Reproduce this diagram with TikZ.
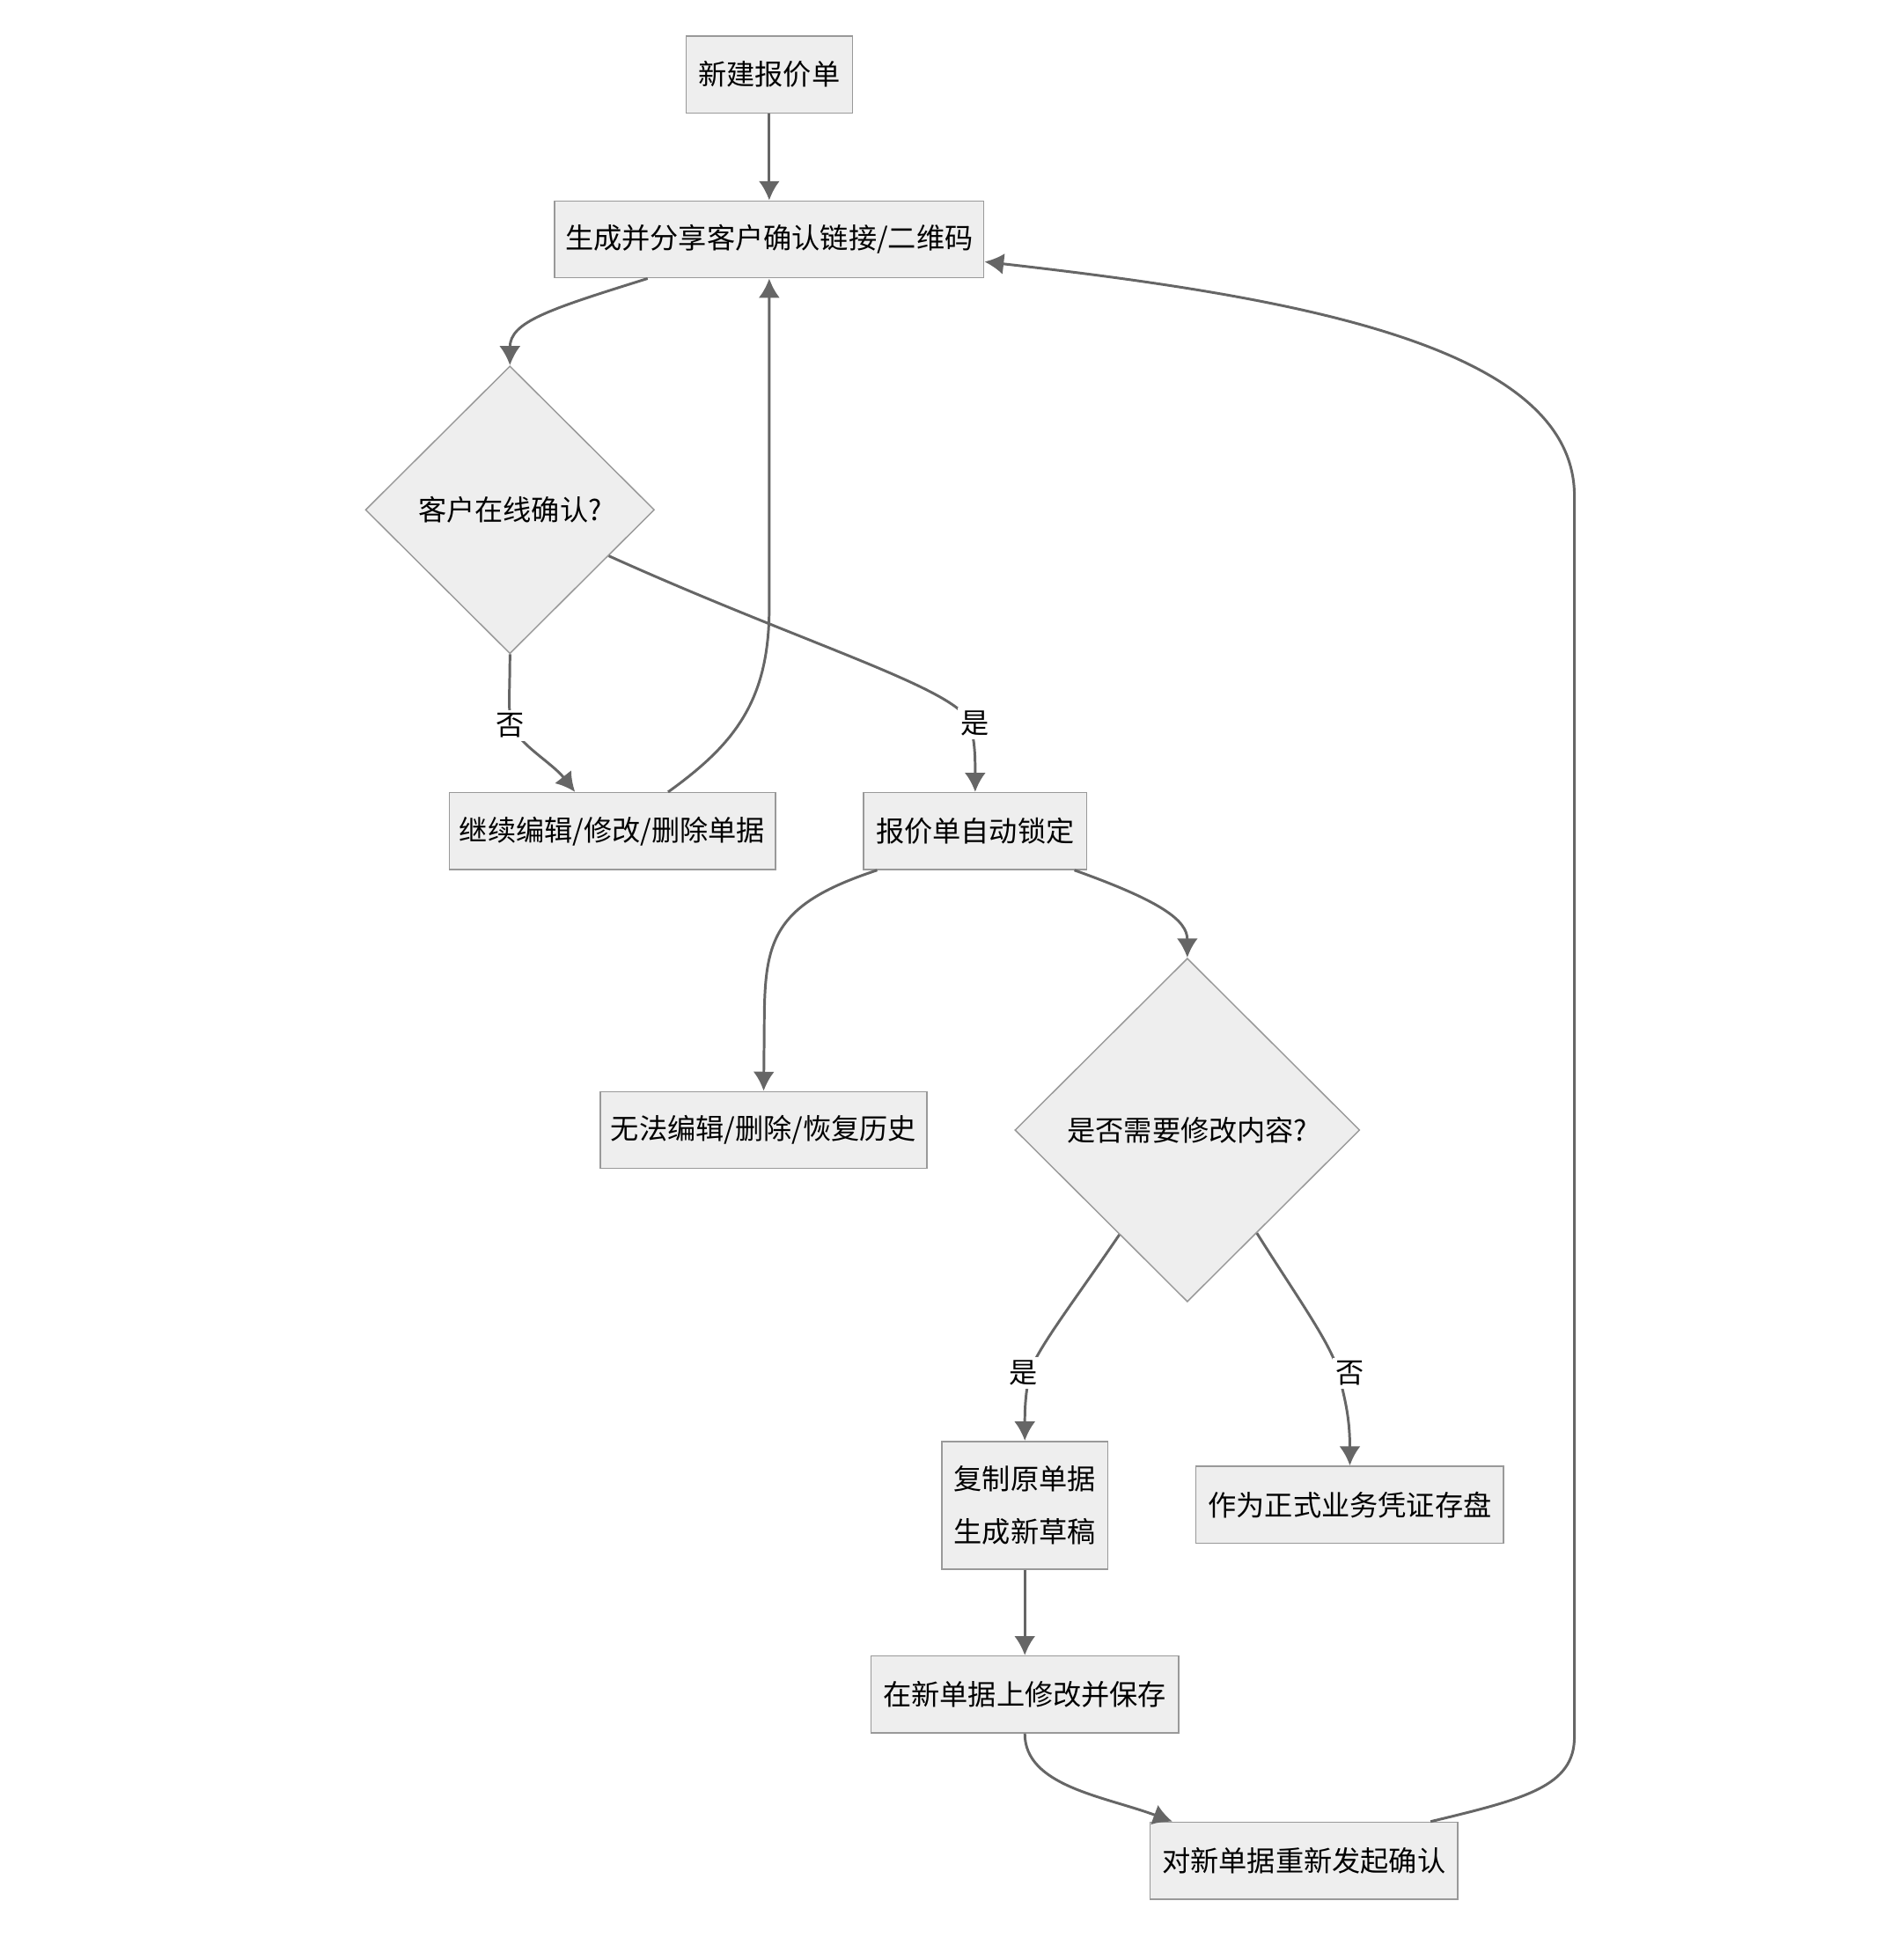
\documentclass[tikz,border=0pt]{standalone}
\usepackage{fontspec}
\setmainfont{Noto Sans CJK SC}
\usepackage{tikz}
\usetikzlibrary{
  % enables the diamond nodes
  shapes.geometric,%
  % enables bigger arrows
  arrows.meta,%
  calc,%
  positioning
}
\definecolor{boxfill}{HTML}{EEEEEE}
\definecolor{boxline}{HTML}{999999}
\definecolor{edgeline}{HTML}{666666}
\tikzset{>={Latex[length=3.1mm, width=3.4mm]}}
\tikzset{font=\fontsize{13}{24}\selectfont}
\tikzset{box/.style={draw=boxline, fill=boxfill, line width=0.6pt,
    minimum height=1.24cm, inner xsep=0.1cm, align=center},
  decide/.style={diamond, draw=boxline, fill=boxfill, line width=0.6pt,
    inner sep=0pt, align=center},
  flow/.style={->, draw=edgeline, line width=1.2pt},
  lbl/.style={fill=white, inner sep=1.5pt}}

\begin{document}
\begin{tikzpicture}[x=0.02cm, y=-0.02cm]
          \useasboundingbox (0, 0) rectangle (1534, 1568); %
          \node[box, minimum width=2.68cm] (new) at (620, 60) {新建报价单}; %
          \node[box, minimum width=6.92cm] (share) at (620, 193) {生成并分享客户确认链接/二维码}; %
          \node[decide, minimum width=4.66cm, minimum height=4.64cm] (online) at (411, 411) {客户在线确认?}; %
          \node[box, minimum width=5.26cm] (keep) at (493.5, 670) {继续编辑/修改/删除单据}; %
          \node[box, minimum width=3.6cm] (lock) at (786, 670) {报价单自动锁定}; %
          \node[box, minimum width=5.26cm] (frozen) at (615.5, 911) {无法编辑/删除/恢复历史}; %
          \node[decide, minimum width=5.56cm, minimum height=5.54cm] (modify) at (957, 911) {是否需要修改内容?}; %
          \node[box, minimum width=2.68cm, minimum height=2.06cm] (copy) at (826, 1213.5) {复制原单据\\生成新草稿}; %
          \node[box, minimum width=4.96cm] (archive) at (1088, 1213) {作为正式业务凭证存盘}; %
          \node[box, minimum width=4.96cm] (save) at (826, 1366) {在新单据上修改并保存}; %
          \node[box, minimum width=4.96cm] (resend) at (1051, 1500) {对新单据重新发起确认}; %
          \draw[flow] (new) -- (share); %
          \draw[flow] ($(share.south)+(-98, 0)$) .. controls +(-80, 25) and +(0, -35) .. (online.north); %
          \draw[flow] (online.south) .. controls (411, 560) and (409, 575) .. (413, 585) node[lbl, xshift=-0.04cm]{否} .. controls (418, 600) and (445, 615) .. ($(keep.north)+(-30, 0)$); %
          \draw[flow] ($(keep.north)+(45, 0)$) .. controls (592, 600) and (620, 565) .. (620, 490) -- (share.south); %
          \draw[flow] (online.-25) .. controls (650, 520) and (772, 555) .. (782, 583) node[lbl, xshift=0.08cm]{是} .. controls (786, 600) and (786, 610) .. (lock.north); %
          \draw[flow] ($(lock.south)+(-79, 0)$) .. controls (620, 730) and (616, 760) .. (616, 830) -- (frozen.north); %
          \draw[flow] ($(lock.south)+(80, 0)$) .. controls +(70, 25) and +(0, -30) .. (modify.north); %
          \draw[flow] (modify.237) .. controls (865, 1050) and (834, 1090) .. (830, 1107) node[lbl, xshift=-0.1cm]{是} .. controls (826, 1125) and (826, 1140) .. (copy.north); %
          \draw[flow] (modify.-56) .. controls (1045, 1045) and (1074, 1085) .. (1079, 1107) node[lbl, xshift=0.18cm]{否} .. controls (1083, 1125) and (1088, 1140) .. (archive.north); %
          \draw[flow] (copy) -- (save); %
          \draw[flow] (save.south) .. controls (826, 1440) and (890, 1448) .. ($(resend.north)+(-106, 0)$); %
          \draw[flow] ($(resend.north)+(102, 0)$) .. controls (1230, 1450) and (1269, 1440) .. (1269, 1400) -- (1269, 400) .. controls (1269, 280) and (1050, 240) .. ($(share.east)+(0, 18)$); %
        \end{tikzpicture}
\end{document}
